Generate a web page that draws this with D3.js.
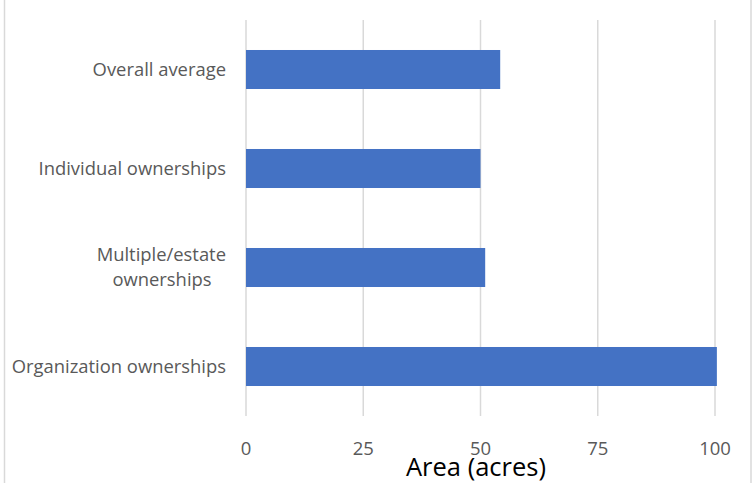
<!DOCTYPE html>
<html><head><meta charset="utf-8">
<script src="https://cdn.jsdelivr.net/npm/d3@7"></script>
<style>body{margin:0;background:#fff}svg{display:block}</style>
</head><body>
<script>
const categories = ["Overall average", "Individual ownerships", "Multiple/estate ownerships", "Organization ownerships"];
const labelLines = [["Overall average"], ["Individual ownerships"], ["Multiple/estate", "ownerships"], ["Organization ownerships"]];
const values = [54.2, 50.0, 51.0, 100.4];
const xTicks = [0, 25, 50, 75, 100];
const xTitle = "Area (acres)";

const W = 752, H = 483;
const svg = d3.select("body").append("svg").attr("width", W).attr("height", H);
const font = "'Open Sans', 'Noto Sans', sans-serif";

// outer borders
svg.append("line").attr("x1", 4.5).attr("x2", 4.5).attr("y1", 0).attr("y2", H).attr("stroke", "#d9d9d9").attr("stroke-width", 1.5);
svg.append("line").attr("x1", 751).attr("x2", 751).attr("y1", 0).attr("y2", H).attr("stroke", "#d9d9d9").attr("stroke-width", 1.5);

const x = d3.scaleLinear().domain([0, 100]).range([246, 715]);
const y = d3.scaleBand().domain(categories).range([20, 416]).paddingInner(0.606).paddingOuter(0.303);

// gridlines
svg.append("g").selectAll("line").data(xTicks).join("line")
  .attr("x1", d => x(d)).attr("x2", d => x(d))
  .attr("y1", 20).attr("y2", 416)
  .attr("stroke", "#d9d9d9").attr("stroke-width", 1.5);

// bars
svg.append("g").selectAll("rect").data(values).join("rect")
  .attr("x", x(0)).attr("y", (d, i) => y(categories[i]))
  .attr("width", d => x(d) - x(0)).attr("height", y.bandwidth())
  .attr("fill", "#4472c4");

// x tick labels
svg.append("g").selectAll("text").data(xTicks).join("text")
  .attr("x", d => x(d)).attr("y", 455)
  .attr("text-anchor", "middle")
  .attr("font-family", font).attr("font-size", 18.5).attr("fill", "#595959")
  .text(d => d);

// category labels
const lab = svg.append("g").selectAll("g").data(categories).join("g");
lab.each(function(c, i) {
  const lines = labelLines[i];
  const cy = y(c) + y.bandwidth() / 2;
  const lh = 25;
  const g = d3.select(this);
  if (lines.length === 1) {
    g.append("text").attr("x", 226).attr("y", cy + 6)
      .attr("text-anchor", "end")
      .attr("font-family", font).attr("font-size", 18.4).attr("fill", "#595959")
      .text(lines[0]);
  } else {
    lines.forEach((l, j) => {
      g.append("text").attr("x", j === 0 ? 226 : 162).attr("y", cy + 6 + (j - (lines.length - 1) / 2) * lh)
        .attr("text-anchor", j === 0 ? "end" : "middle")
        .attr("font-family", font).attr("font-size", 18.4).attr("fill", "#595959")
        .text(l);
    });
  }
});

// axis title
svg.append("text").attr("x", 476).attr("y", 476)
  .attr("text-anchor", "middle")
  .attr("font-family", font).attr("font-size", 25.5).attr("fill", "#000")
  .text(xTitle);
</script>
</body></html>
